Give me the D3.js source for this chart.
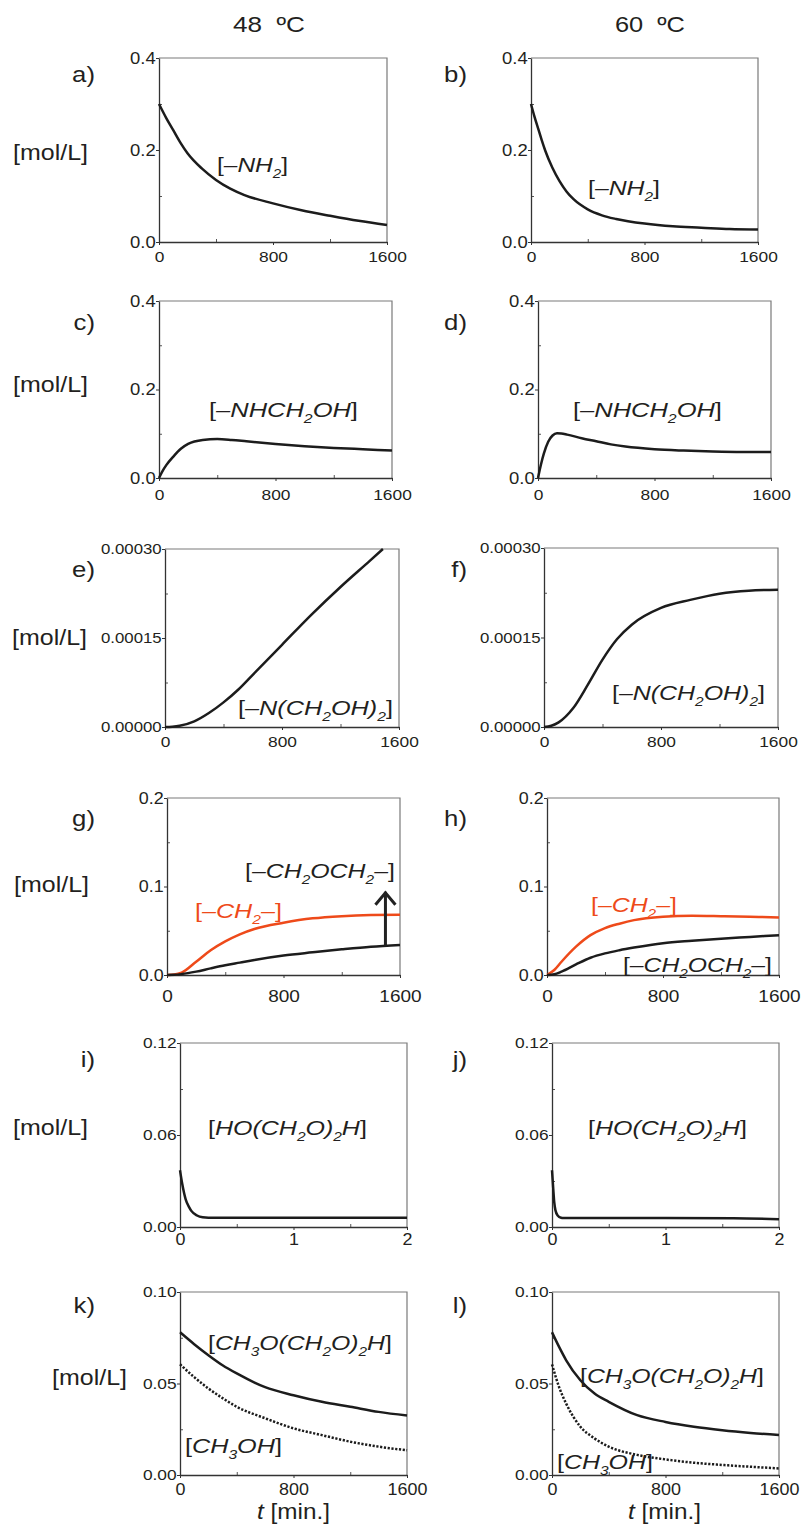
<!DOCTYPE html>
<html><head><meta charset="utf-8">
<script src="https://cdn.jsdelivr.net/npm/d3@7"></script>
<style>
body{margin:0;background:#fff;}
svg{display:block;font-family:'Liberation Sans',Arial,Helvetica,sans-serif;}
</style></head><body>
<svg id="chart" width="801" height="1525"></svg>
<script>
// ---------------- DATA ----------------
const columnTitles = ["48\u00a0\u00a0ºC", "60\u00a0\u00a0ºC"];
const panelLetters = ["a)","b)","c)","d)","e)","f)","g)","h)","i)","j)","k)","l)"];
const unitLabel = "[mol/L]";
const timeLabel = "*t* [min.]";

const xTicksLong = [0, 800, 1600], xMinorLong = [400, 1200];
const xTicksShort = [0, 1, 2], xMinorShort = [0.5, 1.5];
const yTicksNH = [0, 0.2, 0.4], yMinorNH = [0.1, 0.3];
const yTicksN2 = [0, 0.00015, 0.0003], yMinorN2 = [0.000075, 0.000225];
const yTicksCH2 = [0, 0.1, 0.2], yMinorCH2 = [0.05, 0.15];
const yTicksHO = [0, 0.06, 0.12], yMinorHO = [0.03, 0.09];
const yTicksMe = [0, 0.05, 0.10], yMinorMe = [0.025, 0.075];

// a) [-NH2] 48 C
const tA = [0,50,100,150,200,300,400,500,600,800,1000,1200,1400,1600];
const nh2_48 = [0.300,0.270,0.243,0.216,0.193,0.160,0.135,0.116,0.102,0.084,0.069,0.057,0.046,0.037];
// b) [-NH2] 60 C
const tB = [0,25,50,75,100,150,200,250,300,400,500,600,800,1000,1200,1400,1600];
const nh2_60 = [0.300,0.272,0.247,0.222,0.199,0.162,0.133,0.110,0.093,0.071,0.058,0.050,0.040,0.034,0.031,0.028,0.027];
// c) [-NHCH2OH] 48 C
const tC = [0,25,50,100,150,200,300,400,500,600,800,1000,1200,1400,1600];
const nhch2oh_48 = [0,0.016,0.029,0.049,0.066,0.077,0.086,0.088,0.086,0.083,0.077,0.072,0.068,0.065,0.062];
// d) [-NHCH2OH] 60 C
const tD = [0,20,40,70,100,130,160,200,300,400,500,600,800,1000,1200,1400,1600];
const nhch2oh_60 = [0,0.030,0.055,0.082,0.096,0.101,0.1005,0.098,0.090,0.083,0.076,0.071,0.065,0.062,0.060,0.059,0.059];
// e) [-N(CH2OH)2] 48 C
const tE = [0,50,100,200,300,400,500,600,800,1000,1200,1400,1490];
const nch2oh2_48 = [0,0.0000005,0.000002,0.0000095,0.0000235,0.0000415,0.0000628,0.000088,0.0001385,0.000189,0.000236,0.000280,0.000300];
// f) [-N(CH2OH)2] 60 C
const tF = [0,50,100,200,300,400,500,600,800,1000,1200,1400,1600];
const nch2oh2_60 = [0,0.0000022,0.0000078,0.0000318,0.000071,0.000113,0.0001475,0.0001715,0.0001995,0.000213,0.0002235,0.0002285,0.00023];
// g) 48 C
const tG = [0,50,100,200,300,400,500,600,800,1000,1200,1400,1600];
const ch2_48 = [0,0.0005,0.0026,0.015,0.028,0.038,0.046,0.052,0.059,0.064,0.0665,0.0677,0.068];
const ch2och2_48 = [0,0.0002,0.001,0.0038,0.0075,0.011,0.014,0.017,0.022,0.0256,0.029,0.032,0.034];
const arrowG = { t: 1500, from: 0.033, to: 0.094 };
// h) 60 C
const tH = [0,50,100,200,300,400,500,600,800,1000,1200,1400,1600];
const ch2_60 = [0,0.0056,0.015,0.032,0.045,0.053,0.058,0.062,0.0658,0.067,0.0665,0.0658,0.065];
const ch2och2_60 = [0,0.0008,0.0038,0.012,0.0195,0.0244,0.028,0.031,0.0360,0.0387,0.041,0.043,0.045];
// i) [HO(CH2O)2H] 48 C
const tI = [0,0.02,0.05,0.08,0.1,0.15,0.2,0.25,1,2];
const ho_48 = [0.037,0.028,0.018,0.013,0.0105,0.0075,0.0063,0.006,0.006,0.006];
// j) [HO(CH2O)2H] 60 C
const tJ = [0,0.01,0.02,0.03,0.05,0.08,0.1,1,1.6,2];
const ho_60 = [0.037,0.026,0.016,0.011,0.0075,0.006,0.0058,0.0058,0.0057,0.005];
// k) 48 C
const tK = [0,100,200,300,400,600,800,1000,1200,1400,1600];
const hemi_48 = [0.078,0.0715,0.0655,0.060,0.0555,0.048,0.0436,0.040,0.0373,0.0345,0.0325];
const meoh_48 = [0.0605,0.0535,0.0473,0.042,0.0373,0.031,0.0255,0.0218,0.0182,0.0155,0.0135];
// l) 60 C
const tL = [0,50,100,200,300,400,600,800,1000,1200,1400,1600];
const hemi_60 = [0.078,0.070,0.0627,0.0518,0.0445,0.040,0.0327,0.029,0.0264,0.0245,0.023,0.0218];
const meoh_60 = [0.0605,0.048,0.039,0.0264,0.020,0.0155,0.011,0.0085,0.0067,0.0055,0.0045,0.0036];

// ---------------- STYLE / LAYOUT ----------------
const INK = '#231f20';
const LINE = '#1c1c1c';
const ORANGE = '#ee4a1a';
const SX = 1.12;

const svg = d3.select('#chart');

function richText(parent, src, o) {
  const size = o.size;
  const t = parent.append('text').attr('font-size', size).attr('fill', o.color || INK)
    .attr('text-anchor', o.anchor || 'start');
  const runs = [];
  let it = false;
  for (let i = 0; i < src.length; i++) {
    let c = src[i], st;
    if (c === '*') { it = !it; continue; }
    if (c === '_') { c = src[++i]; st = 'sub'; }
    else st = it ? 'it' : 'up';
    const last = runs[runs.length - 1];
    if (last && last.st === st) last.s += c; else runs.push({ s: c, st });
  }
  let shifted = false;
  runs.forEach(r => {
    const ts = t.append('tspan').text(r.s);
    if (r.st === 'sub') {
      ts.attr('font-size', size * 0.62).attr('font-style', 'italic').attr('dy', size * 0.27);
      shifted = true;
    } else {
      if (shifted) { ts.attr('dy', -size * 0.27); shifted = false; }
      ts.attr('font-style', r.st === 'it' ? 'italic' : 'normal');
    }
  });
  const w = t.node().getComputedTextLength();
  const sx = o.width ? o.width / w : SX;
  t.attr('transform', `translate(${o.x},${o.y}) scale(${sx},1)`);
  return t;
}

const rowY = [
  { letter: 82, unit: 160, xOff: 20, yFont: 16.5, xFont: 15.5 },
  { letter: 330, unit: 392, xOff: 22, yFont: 16.5, xFont: 15.5 },
  { letter: 577, unit: 645, xOff: 20, yFont: 15, xFont: 15.5 },
  { letter: 826, unit: 892, xOff: 27, yFont: 16, xFont: 17 },
  { letter: 1067, unit: 1135, xOff: 18, yFont: 15.5, xFont: 16 },
  { letter: 1313, unit: 1385, xOff: 20, yFont: 15.5, xFont: 16 }
];
const unitX = [13, 13, 12, 14, 13, 52];

const panels = [
  { box:[159,58,387,242], xd:[0,1600], yd:[0,0.4], xt:xTicksLong, xm:xMinorLong, yt:yTicksNH, ym:yMinorNH, fmt:'.1f',
    series:[{t:tA, v:nh2_48, c:LINE}], labels:[{s:"[*–NH_2*]", x:217, y:172, w:71}] },
  { box:[531,58,758,242], xd:[0,1600], yd:[0,0.4], xt:xTicksLong, xm:xMinorLong, yt:yTicksNH, ym:yMinorNH, fmt:'.1f',
    series:[{t:tB, v:nh2_60, c:LINE}], labels:[{s:"[*–NH_2*]", x:588, y:195, w:72}] },
  { box:[159,301,392,478], xd:[0,1600], yd:[0,0.4], xt:xTicksLong, xm:xMinorLong, yt:yTicksNH, ym:yMinorNH, fmt:'.1f',
    series:[{t:tC, v:nhch2oh_48, c:LINE}], labels:[{s:"[*–NHCH_2OH*]", x:209, y:417, w:149}] },
  { box:[538,301,771,478], xd:[0,1600], yd:[0,0.4], xt:xTicksLong, xm:xMinorLong, yt:yTicksNH, ym:yMinorNH, fmt:'.1f',
    series:[{t:tD, v:nhch2oh_60, c:LINE}], labels:[{s:"[*–NHCH_2OH*]", x:573, y:417, w:149}] },
  { box:[165,549,399,727], xd:[0,1600], yd:[0,0.0003], xt:xTicksLong, xm:xMinorLong, yt:yTicksN2, ym:yMinorN2, fmt:'.5f',
    series:[{t:tE, v:nch2oh2_48, c:LINE}], labels:[{s:"[*–N(CH_2OH)_2*]", x:238, y:715, w:155}] },
  { box:[544,548,778,727], xd:[0,1600], yd:[0,0.0003], xt:xTicksLong, xm:xMinorLong, yt:yTicksN2, ym:yMinorN2, fmt:'.5f',
    series:[{t:tF, v:nch2oh2_60, c:LINE}], labels:[{s:"[*–N(CH_2OH)_2*]", x:612, y:700, w:153}] },
  { box:[167,798,400,975], xd:[0,1600], yd:[0,0.2], xt:xTicksLong, xm:xMinorLong, yt:yTicksCH2, ym:yMinorCH2, fmt:'.1f',
    series:[{t:tG, v:ch2_48, c:ORANGE}, {t:tG, v:ch2och2_48, c:LINE}], arrow: arrowG,
    labels:[{s:"[*–CH_2OCH_2–*]", x:245, y:878, w:150}, {s:"[*–CH_2–*]", x:195, y:918, w:87, c:ORANGE}] },
  { box:[547,798,779,975], xd:[0,1600], yd:[0,0.2], xt:xTicksLong, xm:xMinorLong, yt:yTicksCH2, ym:yMinorCH2, fmt:'.1f',
    series:[{t:tH, v:ch2_60, c:ORANGE}, {t:tH, v:ch2och2_60, c:LINE}],
    labels:[{s:"[*–CH_2–*]", x:591, y:912, w:86, c:ORANGE}, {s:"[*–CH_2OCH_2–*]", x:623, y:972, w:149}] },
  { box:[180,1043,407,1227], xd:[0,2], yd:[0,0.12], xt:xTicksShort, xm:xMinorShort, yt:yTicksHO, ym:yMinorHO, fmt:'.2f',
    series:[{t:tI, v:ho_48, c:LINE}], labels:[{s:"[*HO(CH_2O)_2H*]", x:208, y:1135, w:159}] },
  { box:[552,1043,779,1227], xd:[0,2], yd:[0,0.12], xt:xTicksShort, xm:xMinorShort, yt:yTicksHO, ym:yMinorHO, fmt:'.2f',
    series:[{t:tJ, v:ho_60, c:LINE}], labels:[{s:"[*HO(CH_2O)_2H*]", x:588, y:1135, w:159}] },
  { box:[180,1292,407,1475], xd:[0,1600], yd:[0,0.1], xt:xTicksLong, xm:xMinorLong, yt:yTicksMe, ym:yMinorMe, fmt:'.2f',
    series:[{t:tK, v:hemi_48, c:LINE}, {t:tK, v:meoh_48, c:LINE, dot:true}],
    labels:[{s:"[*CH_3O(CH_2O)_2H*]", x:208, y:1350, w:184}, {s:"[*CH_3OH*]", x:185, y:1453, w:97}], time:{x:257} },
  { box:[552,1292,779,1475], xd:[0,1600], yd:[0,0.1], xt:xTicksLong, xm:xMinorLong, yt:yTicksMe, ym:yMinorMe, fmt:'.2f',
    series:[{t:tL, v:hemi_60, c:LINE}, {t:tL, v:meoh_60, c:LINE, dot:true}],
    labels:[{s:"[*CH_3O(CH_2O)_2H*]", x:580, y:1383, w:184}, {s:"[*CH_3OH*]", x:557, y:1469, w:96}], time:{x:628} }
];

// ---------------- DRAW ----------------
richText(svg, columnTitles[0], { x: 233, y: 32, size: 22, width: 72 });
richText(svg, columnTitles[1], { x: 615, y: 32, size: 22, width: 70 });

function styleTickText(sel, size) {
  sel.selectAll('text').attr('font-size', size).attr('fill', INK)
    .attr('font-family', "'Liberation Sans', Arial, Helvetica, sans-serif")
    .attr('transform', `scale(${SX},1)`);
}

panels.forEach((p, i) => {
  const row = Math.floor(i / 2), col = i % 2;
  const R = rowY[row];
  const [x0, y0, x1, y1] = p.box;
  const x = d3.scaleLinear().domain(p.xd).range([x0, x1]);
  const y = d3.scaleLinear().domain(p.yd).range([y1, y0]);
  const g = svg.append('g');

  // panel letter and unit label
  richText(g, panelLetters[i], { x: col === 0 ? 95 : 467, y: R.letter, size: 23, anchor: 'end' });
  if (col === 0) richText(g, unitLabel, { x: unitX[row], y: R.unit, size: 22, width: 75 });

  // frame top/right
  g.append('path')
    .attr('d', `M${x(p.xd[0])},${y(p.yd[1])}H${x(p.xd[1])}V${y(p.yd[0])}`)
    .attr('fill', 'none').attr('stroke', '#7a7a7a').attr('stroke-width', 1.2);

  // minor ticks (inward)
  g.append('g').attr('transform', `translate(${x0},0)`)
    .call(d3.axisLeft(y).tickValues(p.ym).tickSize(-3).tickSizeOuter(0).tickFormat(''))
    .call(s => s.select('.domain').remove())
    .call(s => s.selectAll('line').attr('stroke', '#555'));
  g.append('g').attr('transform', `translate(0,${y1})`)
    .call(d3.axisBottom(x).tickValues(p.xm).tickSize(-3).tickSizeOuter(0).tickFormat(''))
    .call(s => s.select('.domain').remove())
    .call(s => s.selectAll('line').attr('stroke', '#555'));

  // major axes
  const yAx = g.append('g').attr('transform', `translate(${x0},0)`)
    .call(d3.axisLeft(y).tickValues(p.yt).tickSize(3).tickSizeOuter(0).tickPadding(0).tickFormat(d3.format(p.fmt)));
  const xAx = g.append('g').attr('transform', `translate(0,${y1})`)
    .call(d3.axisBottom(x).tickValues(p.xt).tickSize(3).tickSizeOuter(0)
      .tickPadding(R.xOff - 3 - 0.71 * R.xFont).tickFormat(d3.format('d')));
  [yAx, xAx].forEach(a => {
    a.select('.domain').attr('stroke', '#333').attr('stroke-width', 1.3);
    a.selectAll('.tick line').attr('stroke', '#333');
  });
  styleTickText(yAx, R.yFont);
  styleTickText(xAx, R.xFont);

  // series
  const line = d3.line().x(d => x(d[0])).y(d => y(d[1])).curve(d3.curveMonotoneX);
  p.series.forEach(s => {
    const pts = s.t.map((t, k) => [t, s.v[k]]);
    g.append('path').attr('d', line(pts)).attr('fill', 'none')
      .attr('stroke', s.c).attr('stroke-width', 2.5)
      .attr('stroke-dasharray', s.dot ? '2.2,1.6' : null)
      .attr('stroke-linejoin', 'round');
  });

  // arrow (panel g)
  if (p.arrow) {
    const ax = x(p.arrow.t), ya = y(p.arrow.from), yb = y(p.arrow.to);
    g.append('path').attr('d', `M${ax},${ya}V${yb}`).attr('stroke', '#222').attr('stroke-width', 3).attr('fill', 'none');
    g.append('path').attr('d', `M${ax - 10},${yb + 13}L${ax},${yb + 1}L${ax + 10},${yb + 13}`)
      .attr('stroke', '#222').attr('stroke-width', 3).attr('fill', 'none').attr('stroke-linejoin', 'miter');
  }

  // labels
  p.labels.forEach(l => richText(g, l.s, { x: l.x, y: l.y, size: 21, width: l.w, color: l.c }));

  if (p.time) richText(g, timeLabel, { x: p.time.x, y: 1519, size: 22, width: 73 });
});
</script>
</body></html>
